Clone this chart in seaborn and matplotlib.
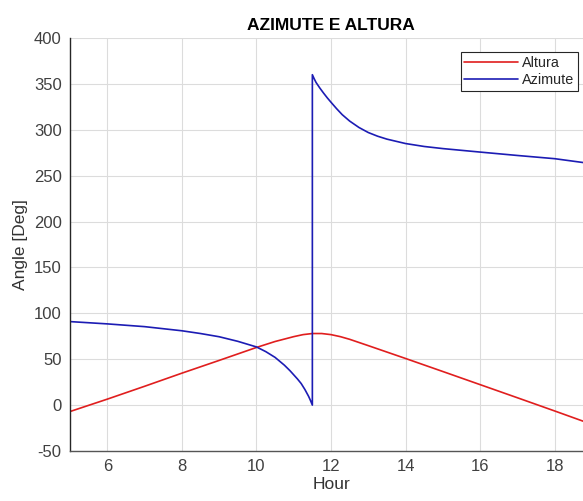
import pandas as pd
import seaborn as sns
import matplotlib.pyplot as plt

# valores
hora_alt = [5, 6, 7, 8, 9, 10, 10.5, 11, 11.25, 11.5, 11.75, 12, 12.25, 12.5, 13, 13.5, 14, 15, 16, 17, 18, 19]
altura = [-7, 6.5, 20.5, 34.8, 48.7, 62.8, 69.3, 74.6, 76.8, 78, 78, 76.8, 74.6, 71.7, 64.8, 57.8, 50.8, 36.6, 22.3, 8, -6.4, -21]

hora_az = [5, 6, 7, 8, 8.5, 9, 9.5, 10, 10.25, 10.5, 10.75, 10.9, 11, 11.1, 11.2, 11.3, 11.4, 11.45, 11.5,
           11.5, 11.55, 11.6, 11.65, 11.7, 11.8, 11.9, 12, 12.15, 12.3, 12.5, 12.75, 13, 13.25, 13.5, 14,
           14.5, 15, 16, 17, 18, 19]
azimute = [91, 88.5, 85.5, 81, 78, 74.5, 69.5, 63.4, 58.3, 52, 43.5, 37.5, 33, 28.5, 23.5, 17, 9.5, 5, 0,
           360, 355.5, 351.5, 348.5, 345.5, 340, 334.8, 330, 323, 316.5, 309.5, 302.5, 297, 293, 289.8, 285,
           281.8, 279.5, 275.7, 272, 268.5, 263]

df = pd.concat([
    pd.DataFrame({"Hour": hora_alt, "Angle": altura, "serie": "Altura"}),
    pd.DataFrame({"Hour": hora_az, "Angle": azimute, "serie": "Azimute"}),
], ignore_index=True)

sns.set_theme(style="whitegrid")
plt.rcParams['font.family'] = ['Liberation Sans', 'DejaVu Sans']
plt.rcParams['axes.unicode_minus'] = False

fig = plt.figure(figsize=(5.83, 5.01), dpi=100)
# o eixo passa um pouco da borda direita (imagem original cortada)
ax = fig.add_axes([70 / 583, 50 / 501, 522 / 583, 413 / 501])

sns.lineplot(data=df, x="Hour", y="Angle", hue="serie", estimator=None, sort=False,
             palette={"Altura": "#e01e1e", "Azimute": "#1c1cb4"}, linewidth=1.2, ax=ax)

ax.set_xlim(5, 19)
ax.set_ylim(-50, 400)
ax.set_xticks([6, 8, 10, 12, 14, 16, 18])
ax.set_yticks(range(-50, 401, 50))
ax.grid(True, color="#dcdcdc", linewidth=0.8)
for s in ["top", "right"]:
    ax.spines[s].set_visible(False)
ax.spines["left"].set_color("#262626")
ax.spines["bottom"].set_color("#555555")
ax.spines["left"].set_linewidth(1.0)
ax.spines["bottom"].set_linewidth(1.0)
ax.tick_params(direction="in", length=4, width=0.8, colors="#262626", labelcolor="#404040",
               labelsize=12, pad=6)

ax.set_xlabel("Hour", fontsize=12.5, color="#333333", labelpad=2)
ax.set_ylabel("Angle [Deg]", fontsize=12.5, color="#333333", labelpad=4)
ax.set_title("AZIMUTE E ALTURA", fontsize=12.5, fontweight="bold", color="black", pad=6)

leg = ax.legend(loc="upper right", bbox_to_anchor=(0.973, 0.966), borderaxespad=0,
                fontsize=10.4, handlelength=3.7, handletextpad=0.3, labelspacing=0.25,
                borderpad=0.25, fancybox=False, framealpha=1, edgecolor="#262626")
leg.get_frame().set_linewidth(0.8)

fig.savefig("out.png", dpi=100, facecolor="white")
